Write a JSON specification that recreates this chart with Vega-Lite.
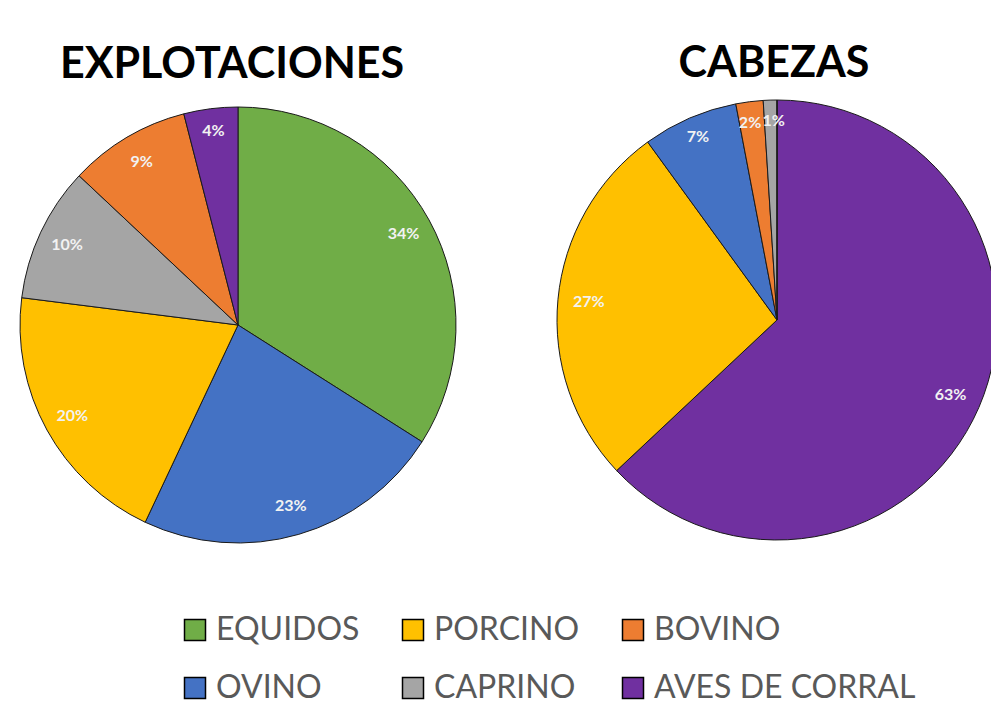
{
  "$schema": "https://vega.github.io/schema/vega-lite/v6.json",
  "background": "white",
  "padding": {"left": 18, "top": 43, "right": 0, "bottom": 0},
  "spacing": 97,
  "data": {
    "values": [
      {"chart": "EXPLOTACIONES", "cat": "EQUIDOS", "share": 0.34, "o": 1},
      {"chart": "EXPLOTACIONES", "cat": "OVINO", "share": 0.23, "o": 2},
      {"chart": "EXPLOTACIONES", "cat": "PORCINO", "share": 0.20, "o": 3},
      {"chart": "EXPLOTACIONES", "cat": "CAPRINO", "share": 0.10, "o": 4},
      {"chart": "EXPLOTACIONES", "cat": "BOVINO", "share": 0.09, "o": 5},
      {"chart": "EXPLOTACIONES", "cat": "AVES DE CORRAL", "share": 0.04, "o": 6},
      {"chart": "CABEZAS", "cat": "AVES DE CORRAL", "share": 0.63, "o": 1},
      {"chart": "CABEZAS", "cat": "PORCINO", "share": 0.27, "o": 2},
      {"chart": "CABEZAS", "cat": "OVINO", "share": 0.07, "o": 3},
      {"chart": "CABEZAS", "cat": "BOVINO", "share": 0.02, "o": 4},
      {"chart": "CABEZAS", "cat": "CAPRINO", "share": 0.01, "o": 5},
      {"chart": "CABEZAS", "cat": "EQUIDOS", "share": 0.0, "o": 6}
    ]
  },
  "hconcat": [
    {
      "title": {"text": "EXPLOTACIONES", "offset": 13, "dx": -6},
      "width": 436,
      "height": 450,
      "transform": [{"filter": "datum.chart == 'EXPLOTACIONES'"}],
      "encoding": {
        "theta": {"field": "share", "type": "quantitative", "stack": true},
        "order": {"field": "o", "type": "quantitative"},
        "color": {
          "field": "cat",
          "type": "nominal",
          "scale": {
            "domain": ["EQUIDOS", "PORCINO", "BOVINO", "OVINO", "CAPRINO", "AVES DE CORRAL"],
            "range": ["#70AD47", "#FFC000", "#ED7D31", "#4472C4", "#A5A5A5", "#7030A0"]
          }
        }
      },
      "layer": [
        {"mark": {"type": "arc", "stroke": "#1a1a1a", "strokeWidth": 1}},
        {
          "transform": [{"filter": "datum.share > 0"}],
          "mark": {"type": "text", "radius": {"expr": "datum.share < 0.08 ? 196 : 189"}, "font": "Lato", "fontWeight": "bold", "fontSize": 16, "align": "center", "baseline": "middle"},
          "encoding": {
            "color": {"value": "#f2f2f2"},
            "detail": {"field": "cat", "type": "nominal"},
            "text": {"field": "share", "type": "quantitative", "format": ".0%"}
          }
        }
      ]
    },
    {
      "title": {"text": "CABEZAS", "offset": 12, "dx": -3},
      "width": 440,
      "height": 440,
      "transform": [{"filter": "datum.chart == 'CABEZAS'"}],
      "encoding": {
        "theta": {"field": "share", "type": "quantitative", "stack": true},
        "order": {"field": "o", "type": "quantitative"},
        "color": {
          "field": "cat",
          "type": "nominal",
          "scale": {
            "domain": ["EQUIDOS", "PORCINO", "BOVINO", "OVINO", "CAPRINO", "AVES DE CORRAL"],
            "range": ["#70AD47", "#FFC000", "#ED7D31", "#4472C4", "#A5A5A5", "#7030A0"]
          }
        }
      },
      "layer": [
        {"mark": {"type": "arc", "stroke": "#1a1a1a", "strokeWidth": 1}},
        {
          "transform": [{"filter": "datum.share > 0"}],
          "mark": {"type": "text", "radius": {"expr": "datum.share < 0.08 ? 199 : 189"}, "dx": {"expr": "datum.share < 0.015 ? 3 : datum.share < 0.03 ? -2 : 0"}, "font": "Lato", "fontWeight": "bold", "fontSize": 16, "align": "center", "baseline": "middle"},
          "encoding": {
            "color": {"value": "#f2f2f2"},
            "detail": {"field": "cat", "type": "nominal"},
            "text": {"field": "share", "type": "quantitative", "format": ".0%"}
          }
        }
      ]
    }
  ],
  "config": {
    "view": {"stroke": null},
    "title": {"font": "Lato", "fontSize": 43, "fontWeight": "bold", "color": "#000000", "anchor": "middle"},
    "legend": {
      "orient": "none",
      "legendX": 159,
      "legendY": 514,
      "columns": 3,
      "direction": "horizontal",
      "title": null,
      "symbolType": "square",
      "symbolSize": 441,
      "symbolStrokeColor": "#000000",
      "symbolStrokeWidth": 1.5,
      "symbolOpacity": 1,
      "labelFont": "Lato",
      "labelFontSize": 32,
      "labelColor": "#595959",
      "labelOffset": 5,
      "labelLimit": 400,
      "columnPadding": 37,
      "rowPadding": 26,
      "gridAlign": "each"
    }
  }
}
